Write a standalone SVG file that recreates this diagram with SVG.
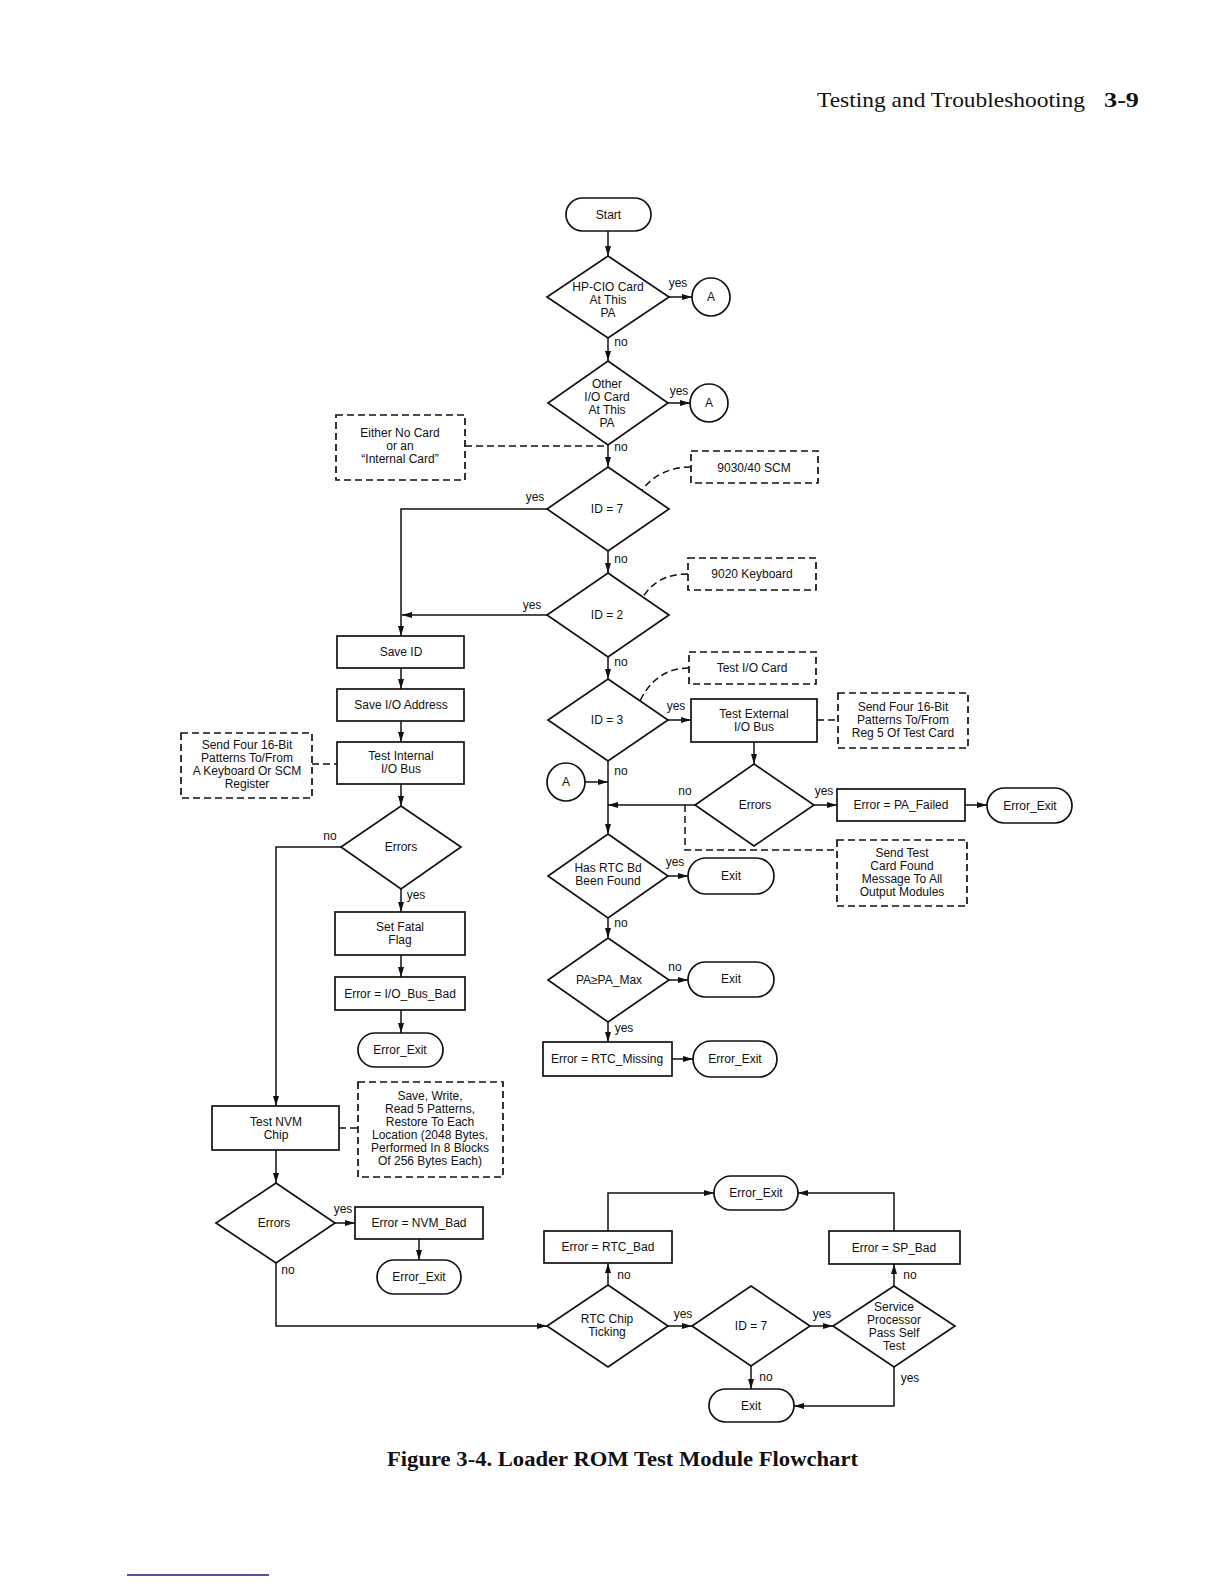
<svg xmlns="http://www.w3.org/2000/svg" width="1224" height="1584" viewBox="0 0 1224 1584">
<defs>
<marker id="ah" markerUnits="userSpaceOnUse" viewBox="0 0 10 6" refX="10" refY="3" markerWidth="10" markerHeight="6" orient="auto">
<path d="M0,0 L10,3 L0,6 Z" fill="#111"/>
</marker>
<style>
.n{fill:#fff;stroke:#111;stroke-width:1.7}
.d{fill:#fff;stroke:#111;stroke-width:1.7;stroke-dasharray:7 4}
.c{fill:none;stroke:#111;stroke-width:1.5}
.a{fill:none;stroke:#111;stroke-width:1.5;marker-end:url(#ah)}
.dl{fill:none;stroke:#111;stroke-width:1.5;stroke-dasharray:7 4}
text{font-family:"Liberation Sans",Arial,sans-serif;font-size:12px;fill:#111;text-anchor:middle}
.l{font-size:12px}
.hd{font-family:"Liberation Serif","Times New Roman",serif;font-size:21px;text-anchor:start}
</style>
</defs>
<rect width="1224" height="1584" fill="#fff"/>

<text class="hd" x="817" y="107" textLength="268" lengthAdjust="spacingAndGlyphs">Testing and Troubleshooting</text>
<text class="hd" x="1104" y="107" font-weight="bold" textLength="35" lengthAdjust="spacingAndGlyphs">3-9</text>

<g id="connectors">
<path class="a" d="M608,231 V256"/>
<path class="a" d="M669,297 H692"/>
<path class="a" d="M608,338 V361"/>
<path class="a" d="M668,403 H690"/>
<path class="a" d="M608,445 V467"/>
<path class="dl" d="M465,446 H608"/>
<path class="dl" d="M691,467 Q660,467 642,490"/>
<path class="a" d="M547,509 H401 V636"/>
<path class="a" d="M608,551 V573"/>
<path class="dl" d="M688,574 Q657,574 643,597"/>
<path class="a" d="M547,615 H402"/>
<path class="a" d="M608,657 V679"/>
<path class="dl" d="M689,668 Q656,668 640,701"/>
<path class="a" d="M668,720 H691"/>
<path class="dl" d="M817,720 H838"/>
<path class="a" d="M754,742 V764"/>
<path class="a" d="M695,805 H608"/>
<path class="a" d="M814,805 H837"/>
<path class="a" d="M965,805 H987"/>
<path class="dl" d="M685,805 V850 H837"/>
<path class="a" d="M585,782 H608"/>
<path class="a" d="M608,761 V834"/>
<path class="a" d="M668,876 H688"/>
<path class="a" d="M608,918 V938"/>
<path class="a" d="M669,980 H688"/>
<path class="a" d="M608,1022 V1042"/>
<path class="a" d="M672,1059 H693"/>
<path class="a" d="M401,668 V689"/>
<path class="a" d="M401,721 V742"/>
<path class="dl" d="M312,764 H337"/>
<path class="a" d="M401,784 V806"/>
<path class="a" d="M341,847 H276 V1106"/>
<path class="a" d="M401,889 V912"/>
<path class="a" d="M401,955 V977"/>
<path class="a" d="M401,1010 V1033"/>
<path class="dl" d="M339,1128 H358"/>
<path class="a" d="M276,1150 V1183"/>
<path class="a" d="M335,1223 H355"/>
<path class="a" d="M419,1239 V1260"/>
<path class="a" d="M276,1263 V1326 H547"/>
<path class="a" d="M608,1285 V1263"/>
<path class="a" d="M608,1231 V1193 H714"/>
<path class="a" d="M668,1326 H692"/>
<path class="a" d="M810,1326 H833"/>
<path class="a" d="M894,1286 V1264"/>
<path class="a" d="M894,1231 V1193 H798"/>
<path class="a" d="M751,1366 V1389"/>
<path class="a" d="M894,1367 V1406 H794"/>
</g>

<g id="labels">
<text x="678" y="287">yes</text>
<text x="621" y="346">no</text>
<text x="679" y="395">yes</text>
<text x="621" y="451">no</text>
<text x="535" y="501">yes</text>
<text x="621" y="563">no</text>
<text x="532" y="609">yes</text>
<text x="621" y="666">no</text>
<text x="676" y="710">yes</text>
<text x="621" y="775">no</text>
<text x="685" y="795">no</text>
<text x="824" y="795">yes</text>
<text x="675" y="866">yes</text>
<text x="621" y="927">no</text>
<text x="675" y="971">no</text>
<text x="624" y="1032">yes</text>
<text x="330" y="840">no</text>
<text x="416" y="899">yes</text>
<text x="343" y="1213">yes</text>
<text x="288" y="1274">no</text>
<text x="624" y="1279">no</text>
<text x="683" y="1318">yes</text>
<text x="822" y="1318">yes</text>
<text x="910" y="1279">no</text>
<text x="766" y="1381">no</text>
<text x="910" y="1382">yes</text>
</g>

<g id="start"><rect class="n" x="566" y="198" width="85" height="33" rx="16.5"/><text x="608.5" y="219">Start</text></g>
<g id="d_hpcio"><path class="n" d="M608,256 L669,297 L608,338 L547,297 Z"/><text x="608" y="291">HP-CIO Card</text><text x="608" y="304">At This</text><text x="608" y="317">PA</text></g>
<g id="a1"><circle class="n" cx="711" cy="297" r="19"/><text x="711" y="301">A</text></g>
<g id="d_other"><path class="n" d="M608,361 L668,403 L608,445 L548,403 Z"/><text x="607" y="388">Other</text><text x="607" y="401">I/O Card</text><text x="607" y="414">At This</text><text x="607" y="427">PA</text></g>
<g id="a2"><circle class="n" cx="709" cy="403" r="19"/><text x="709" y="407">A</text></g>
<g id="note_nocard"><rect class="d" x="336" y="415" width="129" height="65"/><text x="400" y="437">Either No Card</text><text x="400" y="450">or an</text><text x="400" y="463">“Internal Card”</text></g>
<g id="d_id7"><path class="n" d="M608,467 L669,509 L608,551 L547,509 Z"/><text x="607" y="513">ID = 7</text></g>
<g id="note_scm"><rect class="d" x="691" y="451" width="127" height="32"/><text x="754" y="472">9030/40 SCM</text></g>
<g id="d_id2"><path class="n" d="M608,573 L669,615 L608,657 L547,615 Z"/><text x="607" y="619">ID = 2</text></g>
<g id="note_kbd"><rect class="d" x="688" y="558" width="128" height="32"/><text x="752" y="578">9020 Keyboard</text></g>
<g id="d_id3"><path class="n" d="M608,679 L668,720 L608,761 L548,720 Z"/><text x="607" y="724">ID = 3</text></g>
<g id="note_testio"><rect class="d" x="689" y="652" width="127" height="32"/><text x="752" y="672">Test I/O Card</text></g>
<g id="test_ext"><rect class="n" x="691" y="699" width="126" height="43"/><text x="754" y="718">Test External</text><text x="754" y="731">I/O Bus</text></g>
<g id="note_send2"><rect class="d" x="838" y="693" width="130" height="55"/><text x="903" y="711">Send Four 16-Bit</text><text x="903" y="724">Patterns To/From</text><text x="903" y="737">Reg 5  Of Test Card</text></g>
<g id="d_errors_r"><path class="n" d="M754,764 L814,805 L754,846 L695,805 Z"/><text x="755" y="809">Errors</text></g>
<g id="pa_failed"><rect class="n" x="837" y="789" width="128" height="32"/><text x="901" y="809">Error = PA_Failed</text></g>
<g id="errexit_r"><rect class="n" x="987" y="788" width="85" height="35" rx="17.5"/><text x="1030" y="810">Error_Exit</text></g>
<g id="note_sendtest"><rect class="d" x="837" y="840" width="130" height="66"/><text x="902" y="857">Send Test</text><text x="902" y="870">Card Found</text><text x="902" y="883">Message To All</text><text x="902" y="896">Output Modules</text></g>
<g id="a3"><circle class="n" cx="566" cy="782" r="19"/><text x="566" y="786">A</text></g>
<g id="d_hasrtc"><path class="n" d="M608,834 L668,876 L608,918 L548,876 Z"/><text x="608" y="872">Has RTC Bd</text><text x="608" y="885">Been Found</text></g>
<g id="exit1"><rect class="n" x="688" y="858" width="86" height="36" rx="18"/><text x="731" y="880">Exit</text></g>
<g id="d_pamax"><path class="n" d="M608,938 L669,980 L608,1022 L548,980 Z"/><text x="609" y="984">PA≥PA_Max</text></g>
<g id="exit2"><rect class="n" x="688" y="962" width="86" height="35" rx="17.5"/><text x="731" y="983">Exit</text></g>
<g id="rtc_missing"><rect class="n" x="543" y="1042" width="129" height="34"/><text x="607" y="1063">Error = RTC_Missing</text></g>
<g id="errexit_m"><rect class="n" x="693" y="1041" width="84" height="36" rx="18"/><text x="735" y="1063">Error_Exit</text></g>
<g id="save_id"><rect class="n" x="337" y="636" width="127" height="32"/><text x="401" y="656">Save ID</text></g>
<g id="save_io"><rect class="n" x="337" y="689" width="127" height="32"/><text x="401" y="709">Save I/O Address</text></g>
<g id="test_int"><rect class="n" x="337" y="742" width="127" height="42"/><text x="401" y="760">Test Internal</text><text x="401" y="773">I/O Bus</text></g>
<g id="note_send1"><rect class="d" x="181" y="733" width="131" height="65"/><text x="247" y="749">Send Four 16-Bit</text><text x="247" y="762">Patterns To/From</text><text x="247" y="775">A Keyboard Or SCM</text><text x="247" y="788">Register</text></g>
<g id="d_errors_l"><path class="n" d="M401,806 L461,847 L401,889 L341,847 Z"/><text x="401" y="851">Errors</text></g>
<g id="fatal"><rect class="n" x="335" y="912" width="130" height="43"/><text x="400" y="931">Set Fatal</text><text x="400" y="944">Flag</text></g>
<g id="iobusbad"><rect class="n" x="335" y="977" width="130" height="33"/><text x="400" y="998">Error = I/O_Bus_Bad</text></g>
<g id="errexit_l"><rect class="n" x="358" y="1033" width="85" height="34" rx="17"/><text x="400" y="1054">Error_Exit</text></g>
<g id="test_nvm"><rect class="n" x="212" y="1106" width="127" height="44"/><text x="276" y="1126">Test NVM</text><text x="276" y="1139">Chip</text></g>
<g id="note_save"><rect class="d" x="358" y="1082" width="145" height="95"/><text x="430" y="1100">Save, Write,</text><text x="430" y="1113">Read 5 Patterns,</text><text x="430" y="1126">Restore To Each</text><text x="430" y="1139">Location (2048 Bytes,</text><text x="430" y="1152">Performed In 8 Blocks</text><text x="430" y="1165">Of 256 Bytes Each)</text></g>
<g id="d_errors_nvm"><path class="n" d="M276,1183 L335,1223 L276,1263 L216,1223 Z"/><text x="274" y="1227">Errors</text></g>
<g id="nvmbad"><rect class="n" x="355" y="1207" width="128" height="32"/><text x="419" y="1227">Error = NVM_Bad</text></g>
<g id="errexit_nvm"><rect class="n" x="377" y="1260" width="84" height="34" rx="17"/><text x="419" y="1281">Error_Exit</text></g>
<g id="d_rtcchip"><path class="n" d="M608,1285 L668,1326 L608,1367 L547,1326 Z"/><text x="607" y="1323">RTC Chip</text><text x="607" y="1336">Ticking</text></g>
<g id="rtcbad"><rect class="n" x="544" y="1231" width="128" height="32"/><text x="608" y="1251">Error = RTC_Bad</text></g>
<g id="errexit_b"><rect class="n" x="714" y="1176" width="84" height="34" rx="17"/><text x="756" y="1197">Error_Exit</text></g>
<g id="d_id7b"><path class="n" d="M751,1286 L810,1326 L751,1366 L692,1326 Z"/><text x="751" y="1330">ID = 7</text></g>
<g id="d_service"><path class="n" d="M894,1286 L955,1326 L894,1367 L833,1326 Z"/><text x="894" y="1311">Service</text><text x="894" y="1324">Processor</text><text x="894" y="1337">Pass Self</text><text x="894" y="1350">Test</text></g>
<g id="spbad"><rect class="n" x="829" y="1231" width="131" height="33"/><text x="894" y="1252">Error = SP_Bad</text></g>
<g id="exit_b"><rect class="n" x="709" y="1389" width="85" height="33" rx="16.5"/><text x="751" y="1410">Exit</text></g>

<text class="hd" x="387" y="1466" font-weight="bold" textLength="471" lengthAdjust="spacingAndGlyphs">Figure 3-4. Loader ROM Test Module Flowchart</text>
<line x1="127" y1="1575" x2="269" y2="1575" stroke="#1a1a80" stroke-width="1.5"/>
</svg>
